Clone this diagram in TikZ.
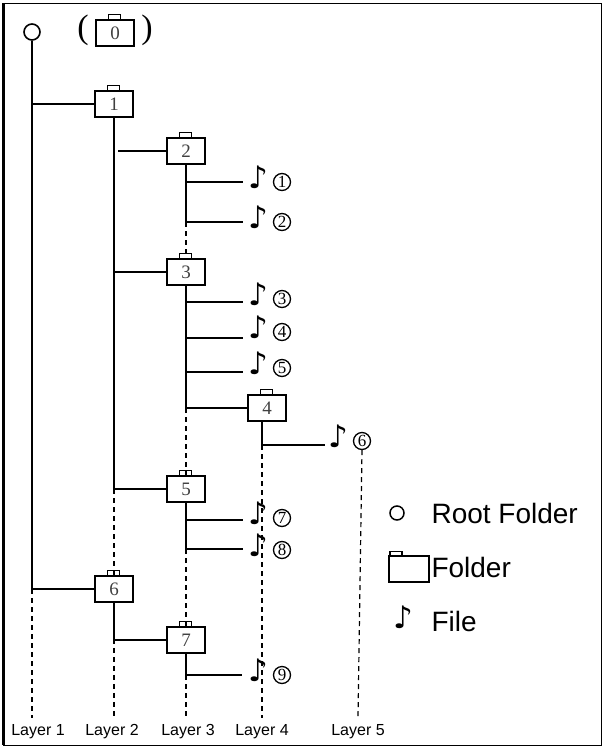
\documentclass[tikz,border=0pt]{standalone}
\usepackage{fontspec}
\setmainfont{Liberation Serif}
\setsansfont{Liberation Sans}
\newfontfamily\symf{DejaVu Sans}
\begin{document}
\begin{tikzpicture}[x=1pt,y=-1pt,
  fold/.style={draw,line width=1.8pt,minimum width=38pt,minimum height=26pt,inner sep=0pt,font=\fontsize{19}{19}\selectfont,text=black!75},
  tab/.style={draw,line width=1pt,fill=white},
  thk/.style={line width=2.5pt},
  thn/.style={line width=1.2pt},
  dsh/.style={line width=1.2pt,dash pattern=on 5pt off 4pt},
  note/.style={font=\symf\fontsize{31}{31}\selectfont,inner sep=0pt},
  cnum/.style={circle,draw,line width=1.3pt,inner sep=0pt,minimum size=17pt,font=\fontsize{17}{17}\selectfont},
  lay/.style={font=\sffamily\fontsize{16}{16}\selectfont},
  leg/.style={font=\sffamily\fontsize{28}{28}\selectfont,anchor=west}]
\useasboundingbox (0,0) rectangle (604,748);
\draw[line width=1pt] (3,3) rectangle (601,745);
\draw[line width=3pt] (3,3) -- (3,745);
\newcommand{\fold}[4]{\node[fold] (#1) at (#2,#3) {#4};
  \draw[tab] ([xshift=-7pt]#1.north) rectangle ++(12,-5);}
\newcommand{\fil}[4]{\node[note] (#1) at (#2,#3) {♪};
  \node[cnum] (#1c) at (#2+24,#3+5) {#4};}
% root and folder 0
\node[circle,draw,line width=1.6pt,minimum size=16pt,inner sep=0pt] (root) at (32,32) {};
\fold{f0}{115}{33}{0}
\node[font=\fontsize{34}{34}\selectfont] (pl) at (83,30) {(};
\node[font=\fontsize{34}{34}\selectfont] (pr) at (147,30) {)};
\fold{f1}{114}{104}{1}
\fold{f2}{186}{151}{2}
\fold{f3}{186}{272}{3}
\fold{f4}{267}{408}{4}
\fold{f5}{186}{489}{5}
\fold{f6}{114}{589}{6}
\fold{f7}{186}{640}{7}
\fil{a1}{258}{177}{1}
\fil{a2}{258}{217}{2}
\fil{a3}{258}{294}{3}
\fil{a4}{258}{327}{4}
\fil{a5}{258}{363}{5}
\fil{a6}{338}{436}{6}
\fil{a7}{258}{513}{7}
\fil{a8}{258}{545}{8}
\fil{a9}{258}{670}{9}
% coordinates
\coordinate (l1b) at (32,718); \coordinate (l2b) at (114,718);
\coordinate (l3b) at (186,718); \coordinate (l4b) at (262,718);
\coordinate (l5b) at (358,718);
% layer 1
\draw[thn] (root.south) -- (32,589);
\draw[dsh] (32,589) -- (l1b);
\draw[thk] (32,104) -- (f1.west);
\draw[thk] (32,589) -- (f6.west);
% layer 2
\draw[thn] (f1.south) -- (114,489);
\draw[dsh] (114,489) -- (f6.north);
\draw[dsh] (f6.south) -- (l2b);
\draw[thk] (118,151) -- (f2.west);
\draw[thn] (114,272) -- (f3.west);
\draw[thn] (114,489) -- (f5.west);
% folder 2
\draw[thn] (f2.south) -- (186,222);
\draw[dsh] (186,222) -- (f3.north);
\draw[thn] (186,182) -- (243,182);
\draw[thk] (186,222) -- (243,222);
% folder 3
\draw[thk] (f3.south) -- (186,408);
\draw[dsh] (186,408) -- (f5.north);
\draw[thk] (186,302) -- (243,302);
\draw[thk] (186,338) -- (243,338);
\draw[thn] (186,372) -- (243,372);
\draw[thk] (186,408) -- (f4.west);
% folder 4
\draw[thn] (262,421) -- (262,445);
\draw[thk] (262,445) -- (325,445);
\draw[dsh] (262,445) -- (l4b);
\draw[dsh] (a6c.south) -- (l5b);
% folder 5
\draw[thk] (f5.south) -- (186,549);
\draw[dsh] (186,549) -- (f7.north);
\draw[thk] (186,520) -- (243,520);
\draw[thk] (186,549) -- (243,549);
% folder 6,7
\draw[thk] (f6.south) -- (114,640) -- (f7.west);
\draw[thk] (f7.south) -- (186,675);
\draw[thn] (186,675) -- (242,675);
\draw[dsh] (186,675) -- (l3b);
% labels
\node[lay] (t1) at (38,732) {Layer 1};
\node[lay] (t2) at (112,732) {Layer 2};
\node[lay] (t3) at (188,732) {Layer 3};
\node[lay] (t4) at (262,732) {Layer 4};
\node[lay] (t5) at (358,732) {Layer 5};
% legend
\node[circle,draw,line width=1.5pt,minimum size=14pt,inner sep=0pt] (lr) at (397,513) {};
\node[leg] (lrt) at (428,513) {Root Folder};
\node[draw,line width=1.3pt,minimum width=40pt,minimum height=26pt,inner sep=0pt] (lf) at (409,569) {};
\draw[line width=1.2pt] ([xshift=-19pt]lf.north) -- ++(0,-4) -- ++(12,0) -- ++(0,4);
\node[leg] (lft) at (428,567) {Folder};
\node[note] (ln) at (403,617) {♪};
\node[leg] (lnt) at (428,621) {File};
\end{tikzpicture}
\end{document}
